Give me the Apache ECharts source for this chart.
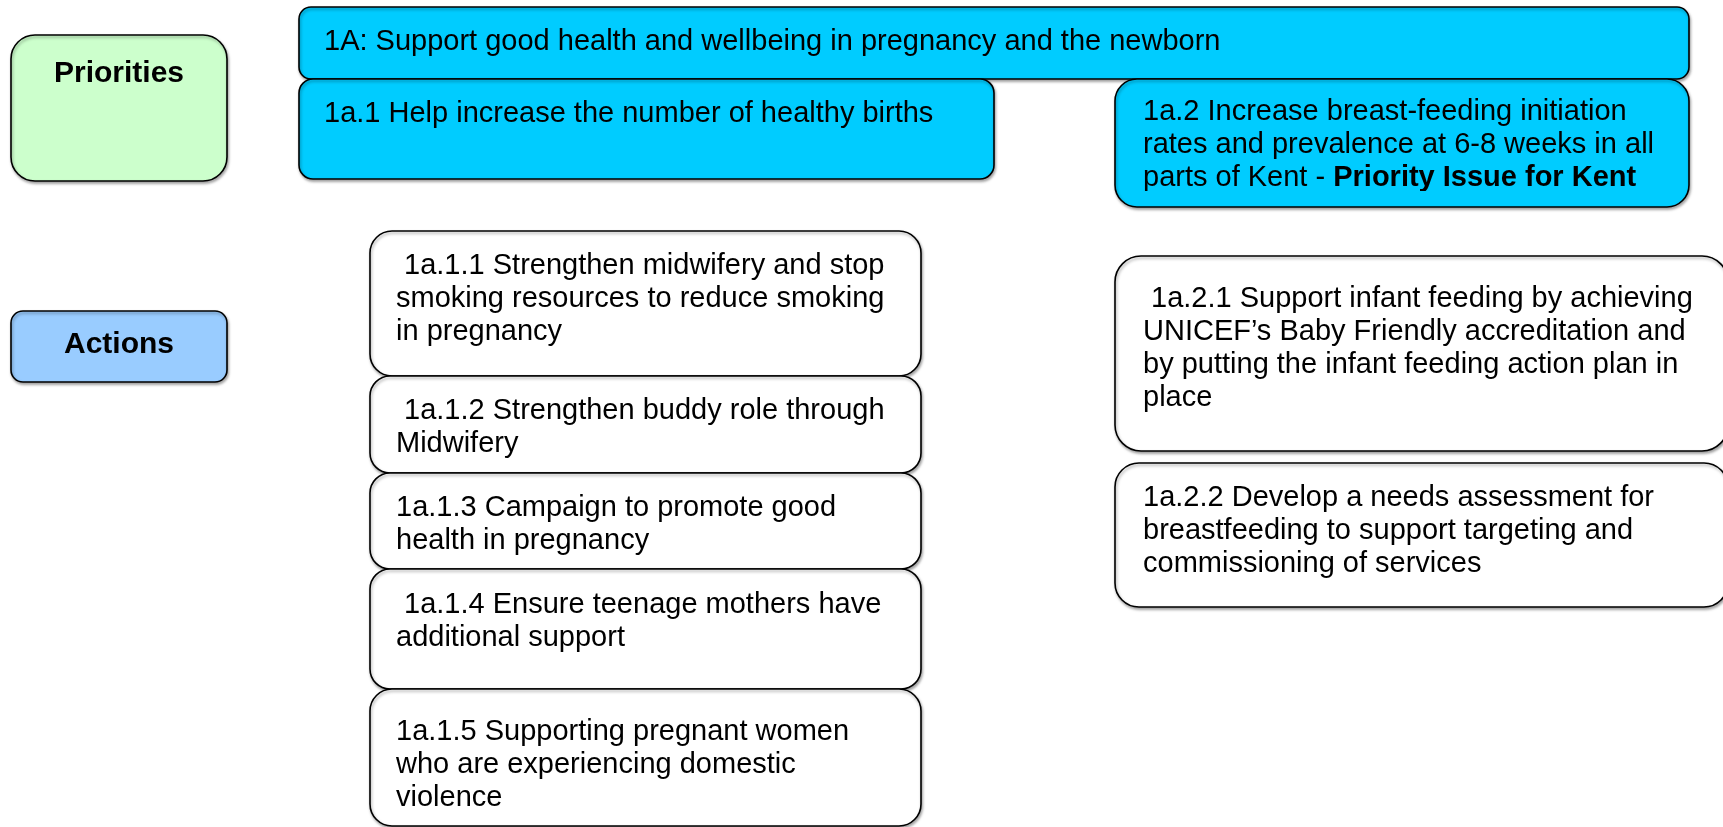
<!DOCTYPE html>
<html>
<head>
<meta charset="utf-8">
<script src="https://cdn.jsdelivr.net/npm/echarts@6/dist/echarts.min.js"></script>
<style>
  html, body { margin: 0; padding: 0; background: #fff; }
  #chart { width: 1723px; height: 827px; }
</style>
</head>
<body>
<div id="chart"></div>
<script>
// texts of the diagram
const rowLabels = ['Priorities', 'Actions']
const goal = '1A: Support good health and wellbeing in pregnancy and the newborn'
const priorities = [
  '1a.1 Help increase the number of healthy births',
  '{n|1a.2 Increase breast-feeding initiation}\n{n|rates and prevalence at 6-8 weeks in all}\n{n|parts of Kent - }{b|Priority Issue for Kent}',
]
const actionsBirths = [
  ' 1a.1.1 Strengthen midwifery and stop\nsmoking resources to reduce smoking\nin pregnancy',
  ' 1a.1.2 Strengthen buddy role through\nMidwifery',
  '1a.1.3 Campaign to promote good\nhealth in pregnancy',
  ' 1a.1.4 Ensure teenage mothers have\nadditional support',
  '1a.1.5 Supporting pregnant women\nwho are experiencing domestic\nviolence',
]
const actionsFeeding = [
  ' 1a.2.1 Support infant feeding by achieving\nUNICEF\u2019s Baby Friendly accreditation and\nby putting the infant feeding action plan in\nplace',
  '1a.2.2 Develop a needs assessment for\nbreastfeeding to support targeting and\ncommissioning of services',
]

// layout in page units: [x0, y0, x1, y1], with drawing style
const layout = [
  { box: [11, 35, 227, 181], fill: '#ccffcc', r: 24, text: rowLabels[0], label: true, padY: 22.5 },
  { box: [11, 311, 227, 382], fill: '#99ccff', r: 12, text: rowLabels[1], label: true, padY: 17.5 },
  { box: [299, 7, 1689, 79], fill: '#00ccff', r: 12, text: goal, padX: 25, padY: 18.5 },
  { box: [299, 79, 994, 179], fill: '#00ccff', r: 14, text: priorities[0], padX: 25, padY: 18.5 },
  { box: [1115, 79, 1689, 207], fill: '#00ccff', r: 22, text: priorities[1], padX: 28, padY: 16.5, rich: true, clip: 191 },
  { box: [370, 231, 921, 376], fill: '#fff', r: 22, text: actionsBirths[0], padX: 26, padY: 18.5 },
  { box: [370, 376, 921, 473], fill: '#fff', r: 20, text: actionsBirths[1], padX: 26, padY: 18.5 },
  { box: [370, 473, 921, 569], fill: '#fff', r: 20, text: actionsBirths[2], padX: 26, padY: 18.5 },
  { box: [370, 569, 921, 689], fill: '#fff', r: 20, text: actionsBirths[3], padX: 26, padY: 19.5 },
  { box: [370, 689, 921, 826], fill: '#fff', r: 22, text: actionsBirths[4], padX: 26, padY: 26.5 },
  { box: [1115, 256, 1728, 451], fill: '#fff', r: 26, text: actionsFeeding[0], padX: 28, padY: 26.5 },
  { box: [1115, 463, 1728, 607], fill: '#fff', r: 24, text: actionsFeeding[1], padX: 28, padY: 18.5 },
]

const FONT = '"Liberation Sans", Arial, sans-serif'
const LINE = 33

const chart = echarts.init(document.getElementById('chart'))

function renderBox(params, api) {
  const item = layout[params.dataIndex]
  const a = api.coord([api.value(0), api.value(1)])
  const c = api.coord([api.value(2), api.value(3)])
  const textStyle = item.label
    ? { text: item.text, fontFamily: FONT, fontSize: 30, fontWeight: 'bold', fill: '#000', align: 'center', verticalAlign: 'top', lineHeight: LINE }
    : { text: item.text, fontFamily: FONT, fontSize: 29, fill: '#000', align: 'left', verticalAlign: 'top', lineHeight: LINE }
  if (item.rich) {
    textStyle.rich = {
      n: { fontFamily: FONT, fontSize: 29, lineHeight: LINE, fill: '#000' },
      b: { fontFamily: FONT, fontSize: 29, fontWeight: 'bold', lineHeight: LINE, fill: '#000' },
    }
  }
  const tx = item.label ? (a[0] + c[0]) / 2 : a[0] + item.padX
  const ty = a[1] + item.padY
  const text = { type: 'text', x: tx, y: ty, style: textStyle }
  if (item.clip) {
    // clip rect lives in the text's own coordinates
    const bottom = api.coord([0, item.clip])[1]
    text.clipPath = { type: 'rect', shape: { x: a[0] - tx, y: a[1] - ty, width: c[0] - a[0], height: bottom - a[1] } }
  }
  return {
    type: 'group',
    children: [
      {
        type: 'rect',
        shape: { x: a[0], y: a[1], width: c[0] - a[0], height: c[1] - a[1], r: item.r },
        style: { fill: item.fill, stroke: '#000', lineWidth: 1.6, shadowBlur: 3, shadowOffsetX: 1, shadowOffsetY: 2, shadowColor: 'rgba(0,0,0,0.35)' },
      },
      text,
    ],
  }
}

chart.setOption({
  animation: false,
  grid: { left: 0, right: 0, top: 0, bottom: 0 },
  xAxis: { type: 'value', min: 0, max: 1723, show: false },
  yAxis: { type: 'value', min: 0, max: 827, inverse: true, show: false },
  series: [{
    type: 'custom',
    clip: false,
    renderItem: renderBox,
    data: layout.map(d => d.box),
  }],
})
</script>
</body>
</html>
